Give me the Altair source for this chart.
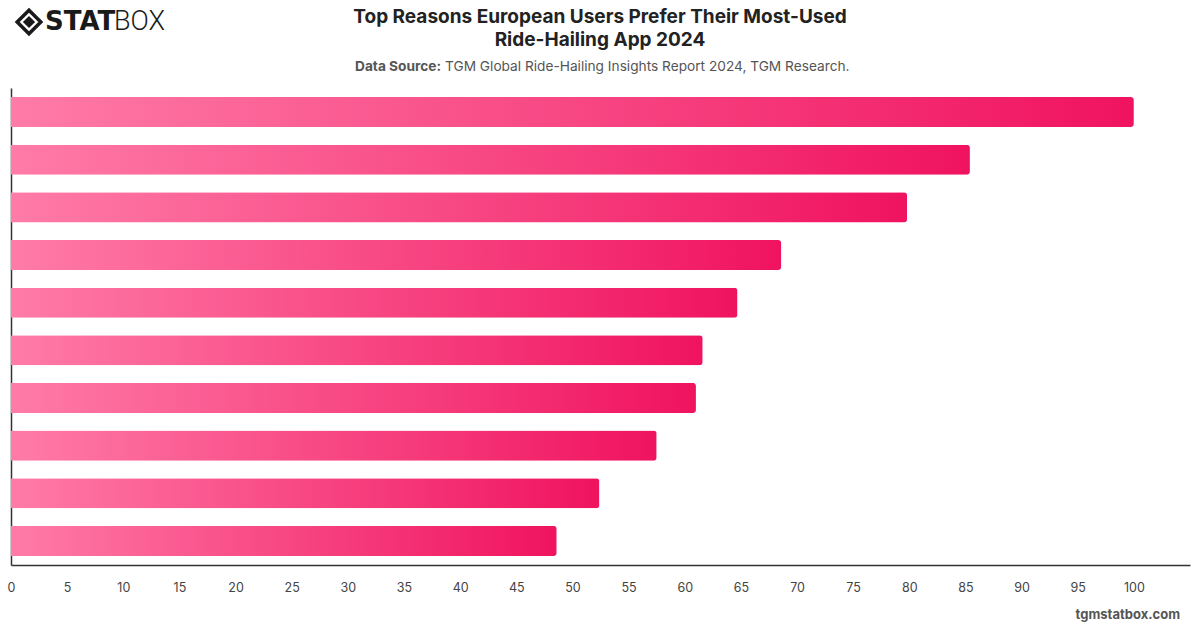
import altair as alt
import pandas as pd

# Share of respondents citing each reason (%), ranked
ranks = [1, 2, 3, 4, 5, 6, 7, 8, 9, 10]
values = [100.0, 85.4, 79.8, 68.6, 64.7, 61.6, 61.0, 57.5, 52.4, 48.6]
tick_values = list(range(0, 101, 5))

title_lines = [
    "Top Reasons European Users Prefer Their Most-Used",
    "Ride-Hailing App 2024",
]
source_label = "Data Source:"
source_text = "TGM Global Ride-Hailing Insights Report 2024, TGM Research."
footer_text = "tgmstatbox.com"

df = pd.DataFrame({"rank": ranks, "value": values})

W, H = 1179, 477
FONT = "Inter"

pink = alt.Gradient(
    gradient="linear",
    stops=[
        alt.GradientStop(color="#ff7ba8", offset=0),
        alt.GradientStop(color="#f0135f", offset=1),
    ],
    x1=0, x2=1, y1=0, y2=0,
)

bars = alt.Chart(df).mark_bar(color=pink, cornerRadiusEnd=3).encode(
    x=alt.X(
        "value:Q",
        scale=alt.Scale(domain=[0, 105], nice=False, zero=True),
        axis=alt.Axis(
            title=None,
            values=tick_values,
            grid=False,
            ticks=False,
            domainColor="#333333",
            domainWidth=1.5,
            labelColor="#444444",
            labelFontSize=12.5,
            labelFont=FONT,
            labelPadding=16,
            labelFlush=False,
        ),
    ),
    y=alt.Y(
        "rank:O",
        sort="ascending",
        scale=alt.Scale(paddingInner=0.37, paddingOuter=0.19),
        axis=alt.Axis(
            title=None,
            labels=False,
            ticks=False,
            grid=False,
            domainColor="#333333",
            domainWidth=1.5,
        ),
    ),
)

def label(text, x, y, size, weight="normal", color="#222222", align="center", font=FONT):
    return alt.Chart(pd.DataFrame({"t": [text]})).mark_text(
        align=align, baseline="middle", fontSize=size, fontWeight=weight,
        color=color, font=font,
    ).encode(text="t:N", x=alt.value(x), y=alt.value(y))

cx = 600 - 11
texts = [
    label(title_lines[0], cx, -71, 19, "bold", "#222222"),
    label(title_lines[1], cx, -48, 19, "bold", "#222222"),
    label(source_label, 430, -21, 13.7, "bold", "#555555", align="right"),
    label(source_text, 434, -21, 13.7, "normal", "#555555", align="left"),
    label(footer_text, 1169, 527, 13, "bold", "#555555", align="right"),
    # logo wordmark
    label("STAT", 34, -66, 26, 900, "#1a1a1a", align="left", font="DejaVu Sans"),
    label("BOX", 103, -66, 27, 300, "#1a1a1a", align="left", font="Roboto"),
]

icon = alt.Chart(pd.DataFrame({"k": [0]}))
logo_outer = icon.mark_point(
    shape="diamond", size=560, filled=False, stroke="#1a1a1a", strokeWidth=3.5, opacity=1
).encode(x=alt.value(18), y=alt.value(-66))
logo_inner = icon.mark_point(
    shape="diamond", size=150, filled=True, color="#1a1a1a", opacity=1
).encode(x=alt.value(18), y=alt.value(-66))

chart = alt.layer(bars, logo_outer, logo_inner, *texts).properties(
    width=W,
    height=H,
    autosize=alt.AutoSizeParams(type="none"),
    padding={"left": 11, "top": 88, "right": 10, "bottom": 63},
    background="white",
).configure_view(stroke=None)

chart.save("out.html", embed_options={"renderer": "svg", "actions": False})
